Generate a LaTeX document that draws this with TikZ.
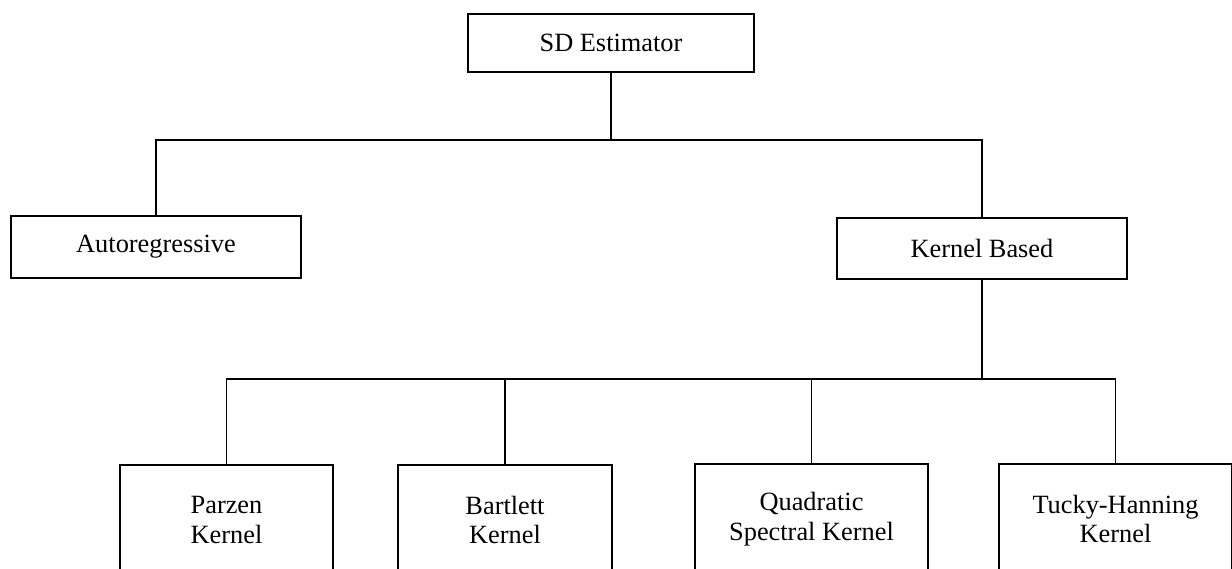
\documentclass[tikz,border=0pt]{standalone}
\usepackage{fontspec}
\setmainfont{Liberation Serif}
\usepackage{tikz}

\begin{document}
\begin{tikzpicture}[line width=1pt,
		box/.style={draw,line width=1pt,inner sep=0pt,outer sep=0pt,align=center,font=\fontsize{15}{17}\selectfont}]
		\clip (0,0) rectangle (24.64,11.38);
		% SD estimator tree
		\node[box,minimum width=5.72cm,minimum height=1.16cm] (SD) at (12.22,10.52) {SD Estimator};
		\node[box,minimum width=5.8cm,minimum height=1.24cm] (Auto) at (3.12,6.44) {Autoregressive};
		\node[box,minimum width=5.8cm,minimum height=1.22cm] (Kernel) at (19.64,6.41) {Kernel Based};

		\node[box,minimum width=4.26cm,minimum height=2.2cm] (Parzen) at (4.53,0.98) {Parzen\\Kernel};
		\node[box,minimum width=4.28cm,minimum height=2.2cm] (Bartlett) at (10.1,0.98) {Bartlett\\Kernel};
		\node[box,minimum width=4.66cm,minimum height=2.2cm] (Quadratic) at (16.23,1.0) {Quadratic\\Spectral Kernel};
		\node[box,minimum width=4.66cm,minimum height=2.2cm] (Tucky) at (22.31,1.0) {Tucky-Hanning\\Kernel};

		\coordinate (Top) at (SD.south |- 0,8.58);
		\coordinate (Low) at (Kernel.south |- 0,3.8);

		\draw (SD.south) -- (Top);
		\draw (Auto.north) |- (Top) -| (Kernel.north);
		\draw (Kernel.south) -- (Low);
		\draw (Parzen.north) |- (Low) -| (Tucky.north);
		\draw (Bartlett.north) -- (Bartlett.north |- Low);
		\draw (Quadratic.north) -- (Quadratic.north |- Low);
		
\end{tikzpicture}
\end{document}
